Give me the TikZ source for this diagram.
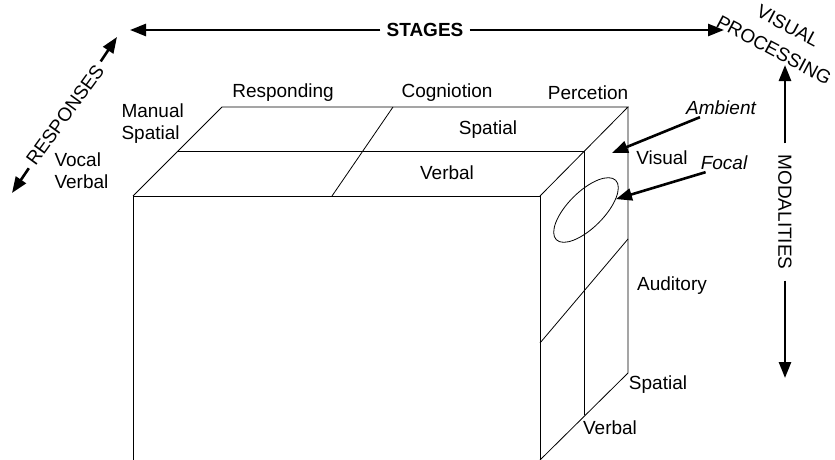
\documentclass[tikz,border=0pt]{standalone}
\usepackage{fontspec}
\setmainfont{Liberation Sans}
\usetikzlibrary{positioning,arrows.meta,shapes.geometric}

\begin{document}
\begin{tikzpicture}[x=1pt,y=-1pt,
    every node/.style={font=\fontsize{19}{22}\selectfont},
    edge/.style={line width=0.8pt},
    bigarrow/.style={line width=2.6pt,-{Triangle[length=16pt,width=12pt]}}]
    \useasboundingbox (0,0) rectangle (835,460);
    \coordinate (BTL) at (222,107);
    \coordinate (BTR) at (628,107);
    \coordinate (ML) at (177,151);
    \coordinate (MR) at (584,151);
    \coordinate (FTL) at (133,196);
    \coordinate (FTR) at (540,196);
    \draw[edge] (133,460) -- (FTL) -- (FTR) -- (540,460);
    \draw[edge] (FTL) -- (BTL) -- (BTR) -- (FTR);
    \draw[edge] (ML) -- (MR) -- (584,415);
    \draw[edge] (BTR) -- (628,373) -- (540,460);
    \draw[edge] (393,107) -- (332,196);
    \draw[edge] (628,239) -- (540,343);
    \node[draw,edge,ellipse,rotate=45,inner sep=0pt,minimum width=84pt,minimum height=36pt] (focalzone) at (586,210) {};
    \node[font=\fontsize{19}{22}\selectfont\bfseries,inner xsep=6pt] (stages) at (425,30) {STAGES};
    \coordinate (stagesL) at (130,30);
    \coordinate (stagesR) at (724,30);
    \draw[bigarrow] (stages) -- (stagesL);
    \draw[bigarrow] (stages) -- (stagesR);
    \node[rotate=54,inner xsep=5pt] (responses) at (65,115) {RESPONSES};
    \coordinate (respUp) at (117,37);
    \coordinate (respDown) at (12,193);
    \draw[bigarrow] (responses) -- (respUp);
    \draw[bigarrow] (responses) -- (respDown);
    \node[rotate=-90,inner xsep=11pt] (modalities) at (785,212) {MODALITIES};
    \coordinate (modUp) at (785,65);
    \coordinate (modDown) at (785,378);
    \draw[bigarrow] (modalities) -- (modUp);
    \draw[bigarrow] (modalities) -- (modDown);
    \node[rotate=-28,inner sep=1pt] (visual1) at (788,26) {VISUAL};
    \node[rotate=-28,inner sep=1pt] (processing) at (774,50) {PROCESSING};
    \node (responding) at (283,93) {Responding};
    \node (cognition) at (447,93) {Cogniotion};
    \node (perception) at (588,93) {Percetion};
    \node[align=left,anchor=west] (manual) at (118,124) {Manual\\Spatial};
    \node[align=left,anchor=west] (vocal) at (51,171) {Vocal\\Verbal};
    \node (topspatial) at (488,130) {Spatial};
    \node (topverbal) at (447,173) {Verbal};
    \node (visual) at (662,158) {Visual};
    \node (auditory) at (672,286) {Auditory};
    \node (sidespatial) at (658,385) {Spatial};
    \node (sideverbal) at (610,428) {Verbal};
    \node[font=\fontsize{19}{22}\selectfont\itshape,inner sep=2pt] (ambient) at (721,108) {Ambient};
    \node[font=\fontsize{19}{22}\selectfont\itshape,inner sep=2pt] (focal) at (724,163) {Focal};
    \coordinate (ambTip) at (612,153);
    \draw[bigarrow] ([xshift=16pt]ambient.south west) -- (ambTip);
    \draw[bigarrow] ([xshift=7pt]focal.south west) -- (focalzone.-25);
\end{tikzpicture}
\end{document}
